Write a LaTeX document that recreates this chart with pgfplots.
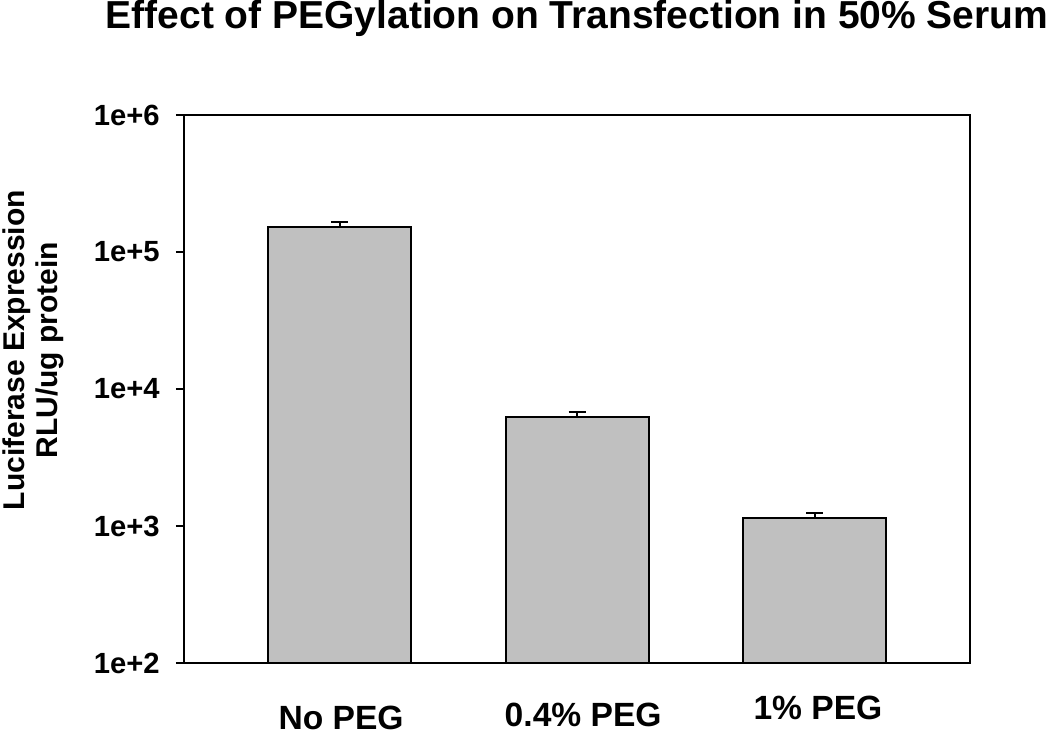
\documentclass[border=0pt]{standalone}
\usepackage{fontspec}
\setmainfont{Liberation Sans}
\usepackage{pgfplots}
\pgfplotsset{compat=1.18}
\definecolor{bargray}{RGB}{192,192,192}
\begin{document}
\begin{tikzpicture}
\useasboundingbox (-92pt,-35.5pt) rectangle (433pt,331.5pt);
\begin{axis}[
  at={(0,0)}, anchor=south west,
  scale only axis, width=393pt, height=274pt,
  ymode=log, ymin=100, ymax=1e6, log origin=infty,
  xmin=0.345, xmax=3.653,
  xtick=\empty,
  ytick={100,1000,10000,100000,1000000},
  yticklabels={\textbf{1e+2},\textbf{1e+3},\textbf{1e+4},\textbf{1e+5},\textbf{1e+6}},
  yminorticks=false,
  tick align=outside, major tick length=4pt,
  ytick pos=left,
  tick style={black, line width=1pt},
  axis line style={line width=1pt},
  yticklabel style={font=\fontsize{14.6}{16}\selectfont\bfseries, inner sep=0pt, xshift=-8pt},
  ybar, bar width=0.602,
  clip=false, axis on top,
]
\addplot[fill=bargray, draw=black, line width=1pt,
  error bars/.cd, y dir=plus, y explicit,
  error bar style={line width=1pt, black},
  error mark options={rotate=90, mark size=4.25pt, line width=1pt, black}]
  coordinates {(1,153000) +- (0,13400) (2,6280) +- (0,480) (3,1150) +- (0,90)};
\node[anchor=base, inner sep=0pt, yshift=-33.3pt, font=\fontsize{16.8}{18}\selectfont\bfseries] at (axis cs:1.006,100) {No PEG};
\node[anchor=base, inner sep=0pt, yshift=-32pt, font=\fontsize{16.8}{18}\selectfont\bfseries] at (axis cs:2.025,100) {0.4\% PEG};
\node[anchor=base, inner sep=0pt, yshift=-28.5pt, font=\fontsize{16.8}{18}\selectfont\bfseries] at (axis cs:3.013,100) {1\% PEG};
\node[anchor=base, inner sep=0pt, yshift=43pt, font=\fontsize{19.5}{21}\selectfont\bfseries] at (rel axis cs:0.5,1) {Effect of PEGylation on Transfection in 50\% Serum};
\node[rotate=90, anchor=north, align=center, inner sep=0pt, font=\fontsize{15}{16.5}\selectfont\bfseries] at ([xshift=-91pt]rel axis cs:0,0.571) {Luciferase Expression\\RLU/ug protein};
\end{axis}
\end{tikzpicture}
\end{document}
